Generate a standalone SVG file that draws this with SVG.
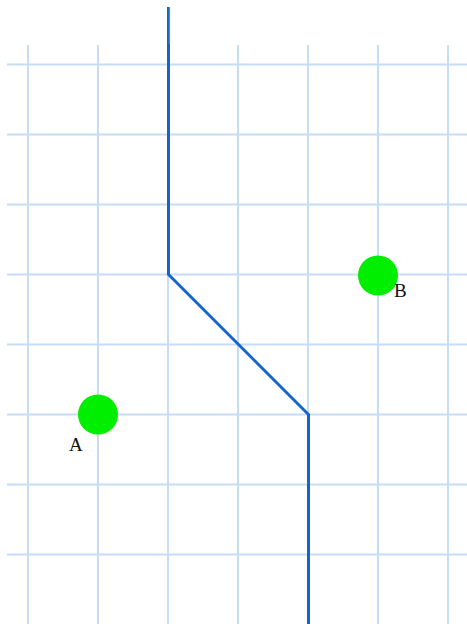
<svg xmlns="http://www.w3.org/2000/svg" width="467" height="624" viewBox="0 0 467 624">
<style>
.grid line{stroke:#c6dcf7;stroke-width:2}
.pt{fill:#00ee00}
.lbl{font-family:"Liberation Serif",serif;font-size:19px;fill:#111}
</style>
<rect width="467" height="624" fill="#ffffff"/>
<g class="grid" id="grid">
<line x1="28" y1="45" x2="28" y2="624"/>
<line x1="98" y1="45" x2="98" y2="624"/>
<line x1="168" y1="45" x2="168" y2="624"/>
<line x1="238" y1="45" x2="238" y2="624"/>
<line x1="308" y1="45" x2="308" y2="624"/>
<line x1="378" y1="45" x2="378" y2="624"/>
<line x1="448" y1="45" x2="448" y2="624"/>
<line x1="7" y1="64.5" x2="467" y2="64.5"/>
<line x1="7" y1="134.5" x2="467" y2="134.5"/>
<line x1="7" y1="204.5" x2="467" y2="204.5"/>
<line x1="7" y1="274.5" x2="467" y2="274.5"/>
<line x1="7" y1="344.5" x2="467" y2="344.5"/>
<line x1="7" y1="414.5" x2="467" y2="414.5"/>
<line x1="7" y1="484.5" x2="467" y2="484.5"/>
<line x1="7" y1="554.5" x2="467" y2="554.5"/>
</g>
<g id="connectors">
<polyline points="168.5,7 168.5,274.5 308.5,414.5 308.5,624" fill="none" stroke="#1565c8" stroke-width="3"/>
<line x1="169.5" y1="7" x2="169.5" y2="44" stroke="#3d8fe0" stroke-width="1.2"/>
</g>
<g id="node-A">
<circle class="pt" cx="98" cy="414.5" r="20"/>
<text class="lbl" x="69" y="451">A</text>
</g>
<g id="node-B">
<circle class="pt" cx="378" cy="275.5" r="20"/>
<text class="lbl" x="394" y="297">B</text>
</g>
</svg>
